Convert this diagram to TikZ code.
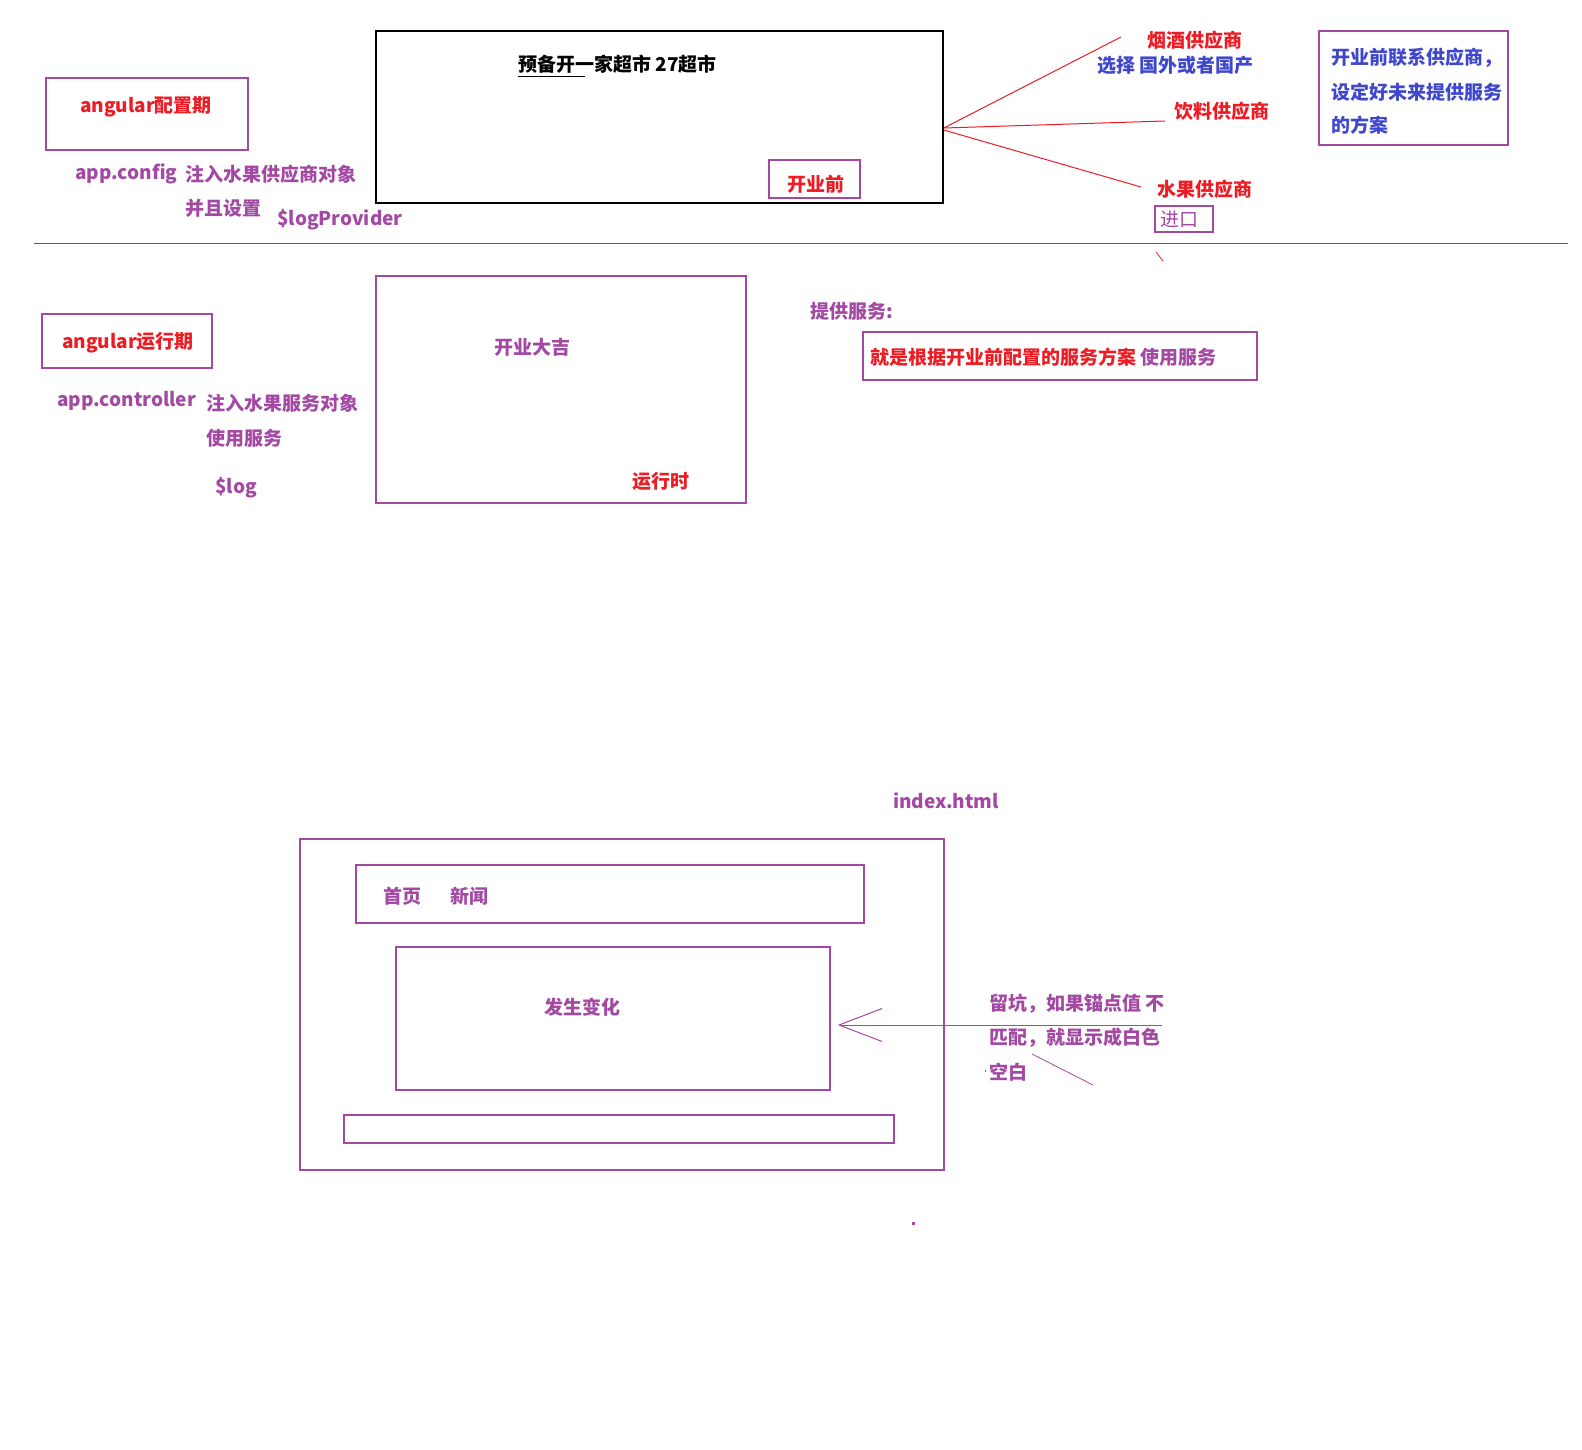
\documentclass[tikz,border=0pt]{standalone}
\usepackage{fontspec}
\setmainfont{Noto Sans CJK SC}
\usetikzlibrary{arrows.meta}
\definecolor{pp}{RGB}{163,73,164}
\definecolor{rd}{RGB}{237,28,36}
\definecolor{bl}{RGB}{63,72,204}
\begin{document}
\begin{tikzpicture}[x=1pt,y=-1pt,
  every node/.style={font=\fontsize{19}{23}\selectfont\bfseries},
  txt/.style={inner sep=0pt},
  lt/.style={txt,anchor=west},
  pbox/.style={draw=pp,line width=1.3pt,inner sep=0pt},
  kbox/.style={draw=black,line width=1.5pt,inner sep=0pt},
  rline/.style={draw=rd,line width=1pt},
  pline/.style={draw=pp,line width=1pt}]
\useasboundingbox (0,0) rectangle (1582,1449);
\fill[white] (0,0) rectangle (1582,1449);

% ---------- top section ----------
\node[kbox,minimum width=567pt,minimum height=172pt] (shop) at (659.5,117) {};
\node[lt] (title) at (518,64) {预备开一家超市 27超市};
\draw[black,line width=1.5pt] ([yshift=-3pt]title.south west) -- ([yshift=-3pt,xshift=67pt]title.south west);
\node[pbox,minimum width=91pt,minimum height=38pt] (before) at (814.5,179) {};
\node[txt,text=rd] (beforet) at (816,184) {开业前};

\coordinate (hub) at ([yshift=-11pt]shop.east);
\coordinate (e1) at (1121,37);
\coordinate (e2) at (1165,121);
\coordinate (e3) at (1141,187);
\draw[rline] (hub) -- (e1);
\draw[rline] (hub) -- (e2);
\draw[rline] ([yshift=-2pt]hub) -- (e3);

\node[txt,text=rd] (yanjiu) at (1195,40) {烟酒供应商};
\node[lt,text=bl] (xuanze) at (1097,65) {选择 国外或者国产};
\node[txt,text=rd] (yinliao) at (1222,111) {饮料供应商};
\node[txt,text=rd] (shuiguo) at (1205,189) {水果供应商};
\node[pbox,minimum width=58pt,minimum height=26pt] (jinkou) at (1184,219) {};
\node[txt,text=pp,font=\fontsize{19}{23}\selectfont] (jinkout) at (1179,219) {进口};
\coordinate (t1) at (1156,252);
\coordinate (t2) at (1163,261);
\draw[rd,line width=0.8pt] (t1) -- (t2);

\node[draw=pp,line width=1.3pt,minimum width=189pt,minimum height=114pt,inner sep=0pt] (plan) at (1413.5,88) {};
\node[lt,text=bl] (plan1) at (1331,58) {开业前联系供应商，};
\node[lt,text=bl] (plan2) at (1331,92) {设定好未来提供服务};
\node[lt,text=bl] (plan3) at (1331,125) {的方案};

\node[pbox,minimum width=202pt,minimum height=72pt] (cfg) at (147,114) {};
\node[txt,text=rd] (cfgt) at (146,107) {angular配置期};
\node[lt,text=pp] (appcfg) at (75,174) {app.config};
\node[lt,text=pp] (inj1) at (185,174) {注入水果供应商对象};
\node[lt,text=pp] (set) at (185,208) {并且设置};
\node[lt,text=pp] (logp) at (277,220) {\$logProvider};

% divider
\coordinate (d1) at (34,243);
\coordinate (d2) at (1568,243);
\draw[rline] (d1) -- (d2);

% ---------- middle section ----------
\node[pbox,minimum width=370pt,minimum height=227pt] (run) at (561,389.5) {};
\node[txt,text=pp] (kaiye) at (532,347) {开业大吉};
\node[txt,text=rd] (runt) at (661,481) {运行时};

\node[pbox,minimum width=170pt,minimum height=54pt] (runp) at (127,341) {};
\node[txt,text=rd] (runpt) at (128,343) {angular运行期};
\node[lt,text=pp] (appctl) at (57,401) {app.controller};
\node[lt,text=pp] (inj2) at (206,403) {注入水果服务对象};
\node[lt,text=pp] (use) at (206,438) {使用服务};
\node[lt,text=pp] (log) at (215,488) {\$log};

\node[lt,text=pp] (serve) at (810,311) {提供服务:};
\node[pbox,minimum width=394pt,minimum height=48pt] (servebox) at (1060,356) {};
\node[lt] (servet) at (870,357) {\textcolor{rd}{就是根据开业前配置的服务方案} \textcolor{pp}{使用服务}};

% ---------- bottom section ----------
\node[lt,text=pp] (index) at (893,801) {index.html};
\node[pbox,minimum width=644pt,minimum height=331pt] (page) at (622,1004.5) {};
\node[pbox,minimum width=508pt,minimum height=58pt] (nav) at (610,894) {};
\node[lt,text=pp] (home) at (383,896) {首页};
\node[lt,text=pp] (news) at (450,896) {新闻};
\node[pbox,minimum width=434pt,minimum height=143pt] (view) at (613,1018.5) {};
\node[txt,text=pp] (change) at (582,1007) {发生变化};
\node[pbox,minimum width=550pt,minimum height=28pt] (foot) at (619,1129) {};

\coordinate (astart) at (1162,1025);
\coordinate (atip) at ([xshift=7pt,yshift=-6.5pt]view.east);
\draw[pline,-{Straight Barb[length=43pt,width=33pt,line width=1pt]}] (astart) -- (atip);

\node[lt,text=pp] (note1) at (989,1004) {留坑，如果锚点值 不};
\node[lt,text=pp] (note2) at (989,1038) {匹配，就显示成白色};
\node[lt,text=pp] (note3) at (989,1072) {空白};
\coordinate (s1) at (1032,1054);
\coordinate (s2) at (1093,1085);
\draw[pline,line width=0.8pt] (s1) -- (s2);
\fill[pp] (912,1222) rectangle (915,1224.5);
\fill[pp] (984.5,1070) rectangle (986,1071.5);
\end{tikzpicture}
\end{document}
